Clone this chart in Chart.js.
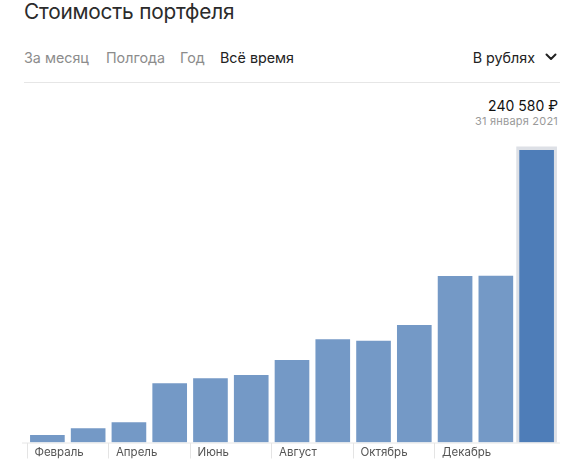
<!DOCTYPE html>
<html lang="ru">
<head>
<meta charset="utf-8">
<title>Стоимость портфеля</title>
<script src="https://cdn.jsdelivr.net/npm/chart.js@4.4.1/dist/chart.umd.min.js"></script>
<style>
  html, body { margin: 0; padding: 0; background: #fff; }
  body { width: 575px; height: 472px; position: relative; overflow: hidden;
         font-family: "Inter", "Roboto", sans-serif; }
  .title { position: absolute; left: 24px; top: -1px; font-size: 20.8px; color: #2b2b2b; letter-spacing: -0.2px; }
  .tabs { position: absolute; left: 24px; top: 49px; font-size: 14.3px; color: #8c8c8c; }
  .tabs span { position: absolute; white-space: nowrap; }
  .tabs .on { color: #222; }
  .currency { position: absolute; right: 40px; top: 49px; font-size: 14.3px; color: #222; }
  .chev { position: absolute; left: 545px; top: 53px; }
  .sep { position: absolute; left: 24px; top: 82px; width: 536px; height: 1px; background: #e6e6e6; }
  .value { position: absolute; right: 17px; top: 97px; font-size: 14px; color: #111; }
  .date { position: absolute; right: 17px; top: 114px; font-size: 11px; color: #9a9a9a; letter-spacing: 0.2px; }
  #wrap { position: absolute; left: 0; top: 140px; width: 575px; height: 332px; }
</style>
</head>
<body>
<div class="title">Стоимость портфеля</div>
<div class="tabs">
  <span style="left:0">За месяц</span>
  <span style="left:82px">Полгода</span>
  <span style="left:156px">Год</span>
  <span class="on" style="left:196px">Всё время</span>
</div>
<div class="currency">В рублях</div>
<svg class="chev" width="12" height="8" viewBox="0 0 12 8"><polyline points="1.5,1.5 6,6 10.5,1.5" fill="none" stroke="#222" stroke-width="2" stroke-linecap="round" stroke-linejoin="round"/></svg>
<div class="sep"></div>
<div class="value">240 580 ₽</div>
<div class="date">31 января 2021</div>
<div id="wrap"><canvas id="chart"></canvas></div>

<script>
// месяцы с февраля 2020 по январь 2021 + текущая дата
var months = ['Февраль', 'Март', 'Апрель', 'Май', 'Июнь', 'Июль', 'Август',
              'Сентябрь', 'Октябрь', 'Ноябрь', 'Декабрь', 'Январь', '31 января'];
var tickLabels = ['Февраль', '', 'Апрель', '', 'Июнь', '', 'Август',
                  '', 'Октябрь', '', 'Декабрь', '', ''];
var portfolio = [6200, 11700, 16600, 48700, 52800, 55500, 67900,
                 84900, 83700, 96600, 136900, 137200, 240580];

var barColor = '#7499c6';
var lastColor = '#4e7db8';
var colors = portfolio.map(function (v, i) {
    return i === portfolio.length - 1 ? lastColor : barColor;
});

// подсветка выбранного столбика и линия оси
var decor = {
    id: 'decor',
    beforeDatasetsDraw: function (chart) {
        var c = chart.ctx;
        var bar = chart.getDatasetMeta(0).data[portfolio.length - 1];
        var half = bar.width / 2 + 3;
        c.save();
        c.fillStyle = '#dde0e6';
        c.fillRect(bar.x - half, bar.y - 3.5, half * 2, bar.base - bar.y + 3.5);
        c.restore();
    },
    afterDraw: function (chart) {
        var c = chart.ctx, a = chart.chartArea;
        c.save();
        c.strokeStyle = '#e6e6e6';
        c.lineWidth = 1;
        c.beginPath();
        c.moveTo(a.left - 5, a.bottom + 0.5);
        c.lineTo(a.right + 3, a.bottom + 0.5);
        c.stroke();
        c.restore();
    }
};

var ctx = document.getElementById('chart').getContext('2d');
var chart = new Chart(ctx, {
    type: 'bar',
    data: {
        labels: months,
        datasets: [{
            data: portfolio,
            backgroundColor: colors,
            borderWidth: 0,
            barPercentage: 0.85,
            categoryPercentage: 1.0
        }]
    },
    options: {
        responsive: true,
        maintainAspectRatio: false,
        animation: false,
        layout: { padding: { top: 10, left: 27, right: 18, bottom: 0 } },
        plugins: {
            legend: { display: false },
            tooltip: { enabled: false }
        },
        scales: {
            y: {
                display: false,
                min: 0,
                max: 240580
            },
            x: {
                afterFit: function (scale) { scale.height = 29.5; },
                border: { display: false },
                grid: {
                    offset: true,
                    drawOnChartArea: false,
                    drawTicks: true,
                    tickLength: 16,
                    color: function (c) {
                        return (c.index % 2 === 0 && c.index <= 10) ? '#e4e4e4' : 'rgba(0,0,0,0)';
                    }
                },
                ticks: {
                    autoSkip: false,
                    maxRotation: 0,
                    align: 'start',
                    labelOffset: -13,
                    padding: -13,
                    color: '#555',
                    font: { family: 'Inter, Roboto, sans-serif', size: 11.5 },
                    callback: function (value, index) { return tickLabels[index]; }
                }
            }
        }
    },
    plugins: [decor]
});
</script>
</body>
</html>
